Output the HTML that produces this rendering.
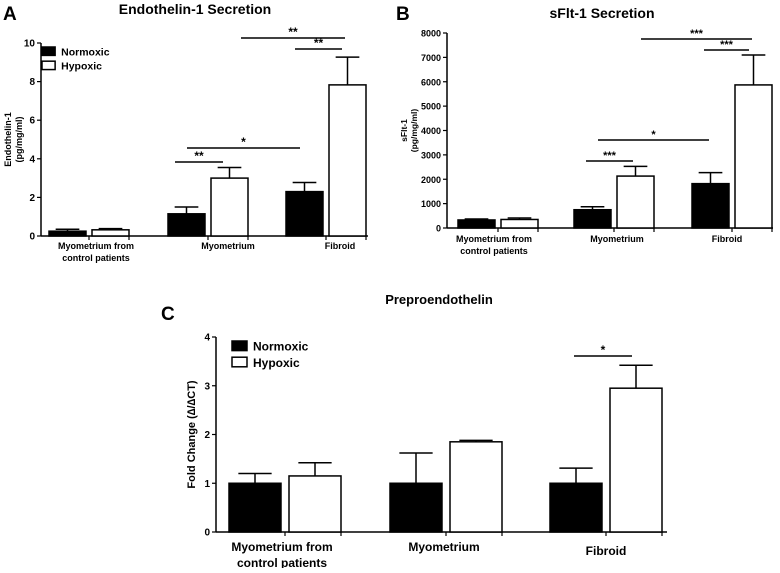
<!DOCTYPE html>
<html><head><meta charset="utf-8"><style>
body{margin:0;background:#fff}
svg text{font-family:"Liberation Sans",Arial,sans-serif;font-weight:bold;fill:#000}
</style></head><body>
<svg id="s" width="780" height="568" xmlns="http://www.w3.org/2000/svg"></svg>
<script>
const categories=["Myometrium from|control patients","Myometrium","Fibroid"];
const aNorm=[0.25,1.15,2.3], aNormErr=[0.35,1.5,2.77];
const aHyp=[0.32,3.0,7.83], aHypErr=[0.38,3.55,9.27];
const aTicks=[0,2,4,6,8,10];
const bNorm=[330,750,1820], bNormErr=[370,870,2270];
const bHyp=[350,2130,5870], bHypErr=[410,2530,7100];
const bTicks=[0,1000,2000,3000,4000,5000,6000,7000,8000];
const cNorm=[1,1,1], cNormErr=[1.2,1.62,1.31];
const cHyp=[1.15,1.85,2.95], cHypErr=[1.42,1.88,3.42];
const cTicks=[0,1,2,3,4];
const NS="http://www.w3.org/2000/svg", svg=document.getElementById('s');
function el(t,a,p){const e=document.createElementNS(NS,t);for(const k in a)e.setAttribute(k,a[k]);(p||svg).appendChild(e);return e;}
function txt(x,y,s,sz,anc,p){const e=el('text',{x:x,y:y,'font-size':sz,'text-anchor':anc||'middle'},p);e.textContent=s;return e;}
function panel(o){
  const g=el('g',{});
  
  
  const y=v=>o.y0-(v/o.max)*(o.y0-o.yTop);
  const ax=el('line',{x1:o.x0,y1:o.yTop,x2:o.x0,y2:o.y0,stroke:'#000','stroke-width':1.5},g);
  
  const xa=el('line',{x1:o.x0,y1:o.y0,x2:o.x1,y2:o.y0,stroke:'#000','stroke-width':1.5},g);
  
  o.ticks.forEach(t=>{
    el('line',{x1:o.x0-4,y1:y(t),x2:o.x0,y2:y(t),stroke:'#000','stroke-width':1.2},g);
    const l=txt(o.x0-6,y(t)+3.5,String(t),o.tsz,'end',g);
    
  });
  categories.forEach((c,i)=>{
    const nx=o.bx[i], hx=nx+o.bw+o.gap;
    [[o.norm,o.normErr,nx,'#000'],[o.hyp,o.hypErr,hx,'#fff']].forEach(([v,e,x,f],k)=>{
      const cx=x+o.bw/2, cw=o.bw*0.32;
      el('line',{x1:cx,y1:y(v[i]),x2:cx,y2:y(e[i]),stroke:'#000','stroke-width':1.5},g);
      el('line',{x1:cx-cw,y1:y(e[i]),x2:cx+cw,y2:y(e[i]),stroke:'#000','stroke-width':1.5},g);
      const r=el('rect',{x:x,y:y(v[i]),width:o.bw,height:o.y0-y(v[i]),fill:f,stroke:'#000','stroke-width':1.5},g);
      
    });
    el('line',{x1:nx+o.bw+o.gap/2,y1:o.y0,x2:nx+o.bw+o.gap/2,y2:o.y0+4,stroke:'#000','stroke-width':1.2},g);
    el('line',{x1:hx+o.bw,y1:o.y0,x2:hx+o.bw,y2:o.y0+4,stroke:'#000','stroke-width':1.2},g);
    const parts=c.split('|');
    parts.forEach((p,j)=>{
      const l=txt(o.lx[i],o.y0+o.ly+j*o.lsz*1.35+(parts.length==1?o.lshift[i]:0),p,o.lsz,'middle',g);
      
    });
  });
  o.sig.forEach(s=>{
    el('line',{x1:s[0],y1:s[2],x2:s[1],y2:s[2],stroke:'#000','stroke-width':1.5},g);
    const l=txt((s[0]+s[1])/2,s[2]-2,s[3],o.tsz+2,'middle',g);
    
  });
  const t=txt(o.tx,o.ty,o.title,o.titleSz,'middle',g);
  
  const L=txt(o.Lx,o.Ly,o.letter,19,'start',g);
  
  const yl=el('g',{transform:`translate(${o.ylx},${(o.y0+o.yTop)/2}) rotate(-90)`},g);
  
  o.ylab.forEach((s,j)=>txt(0,j*o.ylsz*1.2,s,o.ylsz,'middle',yl));
  if(o.leg){
    const [lx,ly,sz]=o.leg;
    ['Normoxic','Hypoxic'].forEach((n,k)=>{
      const lg=el('g',{},g);
      
      el('rect',{x:lx,y:ly+k*sz*1.35,width:sz*1.25,height:sz*0.8,fill:k?'#fff':'#000',stroke:'#000','stroke-width':1.5},lg);
      txt(lx+sz*1.25+6,ly+k*sz*1.35+sz*0.8,n,sz,'start',lg);
    });
  }
}
panel({name:'panel-a-endothelin',x0:41,x1:368,y0:236,yTop:43,max:10,ticks:aTicks,tsz:10,
 norm:aNorm,normErr:aNormErr,hyp:aHyp,hypErr:aHypErr,bx:[49,168,286],bw:37,gap:6,
 lx:[96,228,340],ly:13,lsz:9,lshift:[0,0,0],
 sig:[[241,345,38,'**'],[295,342,49,'**'],[187,300,148,'*'],[175,223,162,'**']],
 tx:195,ty:14,title:'Endothelin-1 Secretion',titleSz:14,Lx:3,Ly:20,letter:'A',
 ylx:11,ylab:['Endothelin-1','(pg/mg/ml)'],ylsz:9,leg:[42,47,10.5]});
panel({name:'panel-b-sflt1',x0:447,x1:773,y0:228,yTop:33,max:8000,ticks:bTicks,tsz:9,
 norm:bNorm,normErr:bNormErr,hyp:bHyp,hypErr:bHypErr,bx:[458,574,692],bw:37,gap:6,
 lx:[494,617,727],ly:14,lsz:9,lshift:[0,0,0],
 sig:[[641,752,39,'***'],[704,749,50,'***'],[598,709,140,'*'],[586,633,161,'***']],
 tx:602,ty:18,title:'sFlt-1 Secretion',titleSz:14,Lx:396,Ly:20,letter:'B',
 ylx:407,ylab:['sFlt-1','(pg/mg/ml)'],ylsz:8.5,leg:null});
panel({name:'panel-c-preproendothelin',x0:216,x1:667,y0:532,yTop:337,max:4,ticks:cTicks,tsz:10,
 norm:cNorm,normErr:cNormErr,hyp:cHyp,hypErr:cHypErr,bx:[229,390,550],bw:52,gap:8,
 lx:[282,444,606],ly:19,lsz:12,lshift:[0,0,4],
 sig:[[574,632,356,'*']],
 tx:439,ty:304,title:'Preproendothelin',titleSz:13,Lx:161,Ly:320,letter:'C',
 ylx:195,ylab:['Fold  Change (\u2206/\u2206CT)'],ylsz:11,leg:[232,341,12]});
</script>
</body></html>
